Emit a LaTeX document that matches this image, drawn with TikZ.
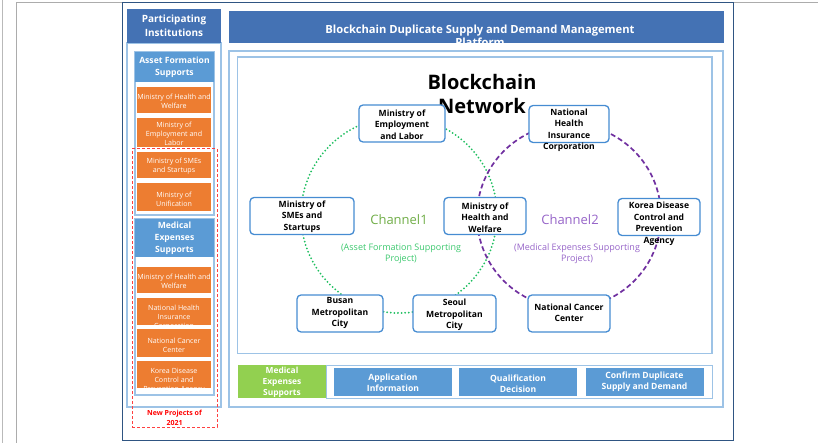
\documentclass[tikz,border=0pt]{standalone}
\usepackage{fontspec}
\setmainfont{Open Sans}
\definecolor{hdrblue}{RGB}{68,114,180}
\definecolor{midblue}{RGB}{91,155,213}
\definecolor{lineblue}{RGB}{157,195,230}
\definecolor{nodeblue}{RGB}{70,140,210}
\definecolor{orng}{RGB}{237,125,49}
\definecolor{grn}{RGB}{146,208,80}
\definecolor{ringgreen}{RGB}{30,190,95}
\definecolor{chonetext}{RGB}{112,173,71}
\definecolor{chonesub}{RGB}{60,200,110}
\definecolor{ringpurple}{RGB}{112,48,160}
\definecolor{chtwotext}{RGB}{150,100,200}
\definecolor{frameblue}{RGB}{47,85,130}
\begin{document}
\begin{tikzpicture}[x=1pt,y=-1pt,
  frame/.style={draw=lineblue, line width=1.2pt, inner sep=0pt},
  hdr/.style={fill=hdrblue, inner sep=0pt, text=white, align=center, font=\fontsize{10}{13.5}\selectfont\bfseries},
  subhdr/.style={fill=midblue, inner sep=0pt, text=white, align=center, font=\fontsize{8.6}{12}\selectfont\bfseries},
  obox/.style={fill=orng, inner sep=0pt, minimum width=74pt},
  otext/.style={inner sep=0pt, text=white, align=center, font=\fontsize{7.1}{8.8}\selectfont},
  netbox/.style={draw=nodeblue, line width=1.3pt, rounded corners=4pt, fill=white, minimum height=37pt, inner sep=0pt},
  nettext/.style={inner sep=0pt, align=center, font=\fontsize{8.6}{11.5}\selectfont\bfseries},
  bbox/.style={fill=midblue, inner sep=0pt, minimum width=118pt, minimum height=28pt},
  btext/.style={inner sep=0pt, text=white, align=center, font=\fontsize{8.6}{10.8}\selectfont\bfseries},
  ringone/.style={circle, draw=ringgreen, line width=2pt, dash pattern=on 0pt off 3.6pt, line cap=round, inner sep=0pt},
  ringtwo/.style={circle, draw=ringpurple, line width=1.7pt, dash pattern=on 5pt off 3pt, inner sep=0pt}
]
\useasboundingbox (0,0) rectangle (818,443);
% page frames
\draw[gray!55, line width=0.8pt] (2,0) -- (2,443);
\draw[gray!65, line width=0.8pt] (16,443) -- (16,2) -- (818,2);
\draw[frameblue, line width=1.2pt] (122.5,2.5) rectangle (733.5,440.5);

% ---------- left column ----------
\node[frame, minimum width=94pt, minimum height=364pt] (col) at (174,225) {};
\node[hdr, minimum width=94pt, minimum height=34pt] (colhdr) at (174,26) {Participating\\Institutions};
\node[frame, minimum width=79pt, minimum height=163pt] (assetgrp) at (174.5,133.5) {};
\node[subhdr, minimum width=79pt, minimum height=30pt] (assethdr) at (174.5,67) {Asset Formation\\Supports};
\node[frame, minimum width=79pt, minimum height=176pt] (medgrp) at (174.5,307) {};
\node[subhdr, minimum width=79pt, minimum height=38pt] (medhdr) at (174.5,238) {Medical\\Expenses\\Supports};

% orange boxes (asset)
\begin{scope}
\clip (137,87) rectangle (211,113);
\node[obox, minimum height=26pt] (a1) at (174,100) {};
\node[otext] (a1t) at (174,101.5) {Ministry of Health and\\Welfare};
\end{scope}
\begin{scope}
\clip (137,118) rectangle (211,147);
\node[obox, minimum height=29pt] (a2) at (174,132.5) {};
\node[otext] (a2t) at (174,134) {Ministry of\\Employment and\\Labor};
\end{scope}
\begin{scope}
\clip (137,152) rectangle (211,178);
\node[obox, minimum height=26pt] (a3) at (174,165) {};
\node[otext] (a3t) at (174,166.5) {Ministry of SMEs\\and Startups};
\end{scope}
\begin{scope}
\clip (137,183) rectangle (211,211);
\node[obox, minimum height=28pt] (a4) at (174,197) {};
\node[otext] (a4t) at (174,199.5) {Ministry of\\Unification};
\end{scope}
% orange boxes (medical)
\begin{scope}
\clip (137,267) rectangle (211,293);
\node[obox, minimum height=26pt] (m1) at (174,280) {};
\node[otext] (m1t) at (174,281.5) {Ministry of Health and\\Welfare};
\end{scope}
\begin{scope}
\clip (137,298) rectangle (211,325);
\node[obox, minimum height=27pt] (m2) at (174,311.5) {};
\node[otext] (m2t) at (174,317.5) {National Health\\Insurance\\Corporation};
\end{scope}
\begin{scope}
\clip (137,329) rectangle (211,357);
\node[obox, minimum height=28pt] (m3) at (174,343) {};
\node[otext] (m3t) at (174,345) {National Cancer\\Center};
\end{scope}
\begin{scope}
\clip (137,361) rectangle (211,388);
\node[obox, minimum height=27pt] (m4) at (174,374.5) {};
\node[otext] (m4t) at (174,381) {Korea Disease\\Control and\\Prevention Agency};
\end{scope}

% red dashed new projects
\node[draw=red!75, line width=1pt, dash pattern=on 3pt off 2pt, inner sep=0pt, minimum width=85pt, minimum height=278pt] (newproj) at (174.5,288) {};
\node[inner sep=0pt, text=red, align=center, font=\fontsize{7}{10}\selectfont\bfseries] (newprojt) at (174.5,417.5) {New Projects of\\2021};

% ---------- right part ----------
\begin{scope}
\clip (229,11) rectangle (724,43);
\node[fill=hdrblue, inner sep=0pt, minimum width=495pt, minimum height=32pt] (title) at (476.5,27) {};
\node[inner sep=0pt, text=white, align=center, font=\fontsize{11.2}{13.5}\selectfont\bfseries] (titlet) at (480,36) {Blockchain Duplicate Supply and Demand Management\\Platform};
\end{scope}
\node[frame, minimum width=494pt, minimum height=356pt] (mainbox) at (476,229) {};
\node[frame, minimum width=474.5pt, minimum height=296.5pt] (netarea) at (474.75,205.25) {};

\node[inner sep=0pt, align=center, font=\fontsize{20}{24}\selectfont\bfseries] (bcn) at (482,94) {Blockchain\\Network};

% rings
\node[ringone, minimum size=196pt] (ring1) at (399,215) {};
\node[ringtwo, minimum size=184pt] (ring2) at (569,216) {};

% network nodes
\node[netbox, minimum width=86pt] (emp) at (402,123.5) {};
\node[nettext] (empt) at (402,124.5) {Ministry of\\Employment\\and Labor};
\node[netbox, minimum width=104pt] (sme) at (302,216) {};
\node[nettext] (smet) at (302,216.5) {Ministry of\\SMEs and\\Startups};
\node[netbox, minimum width=82pt] (hw) at (485,216) {};
\node[nettext] (hwt) at (485,217.5) {Ministry of\\Health and\\Welfare};
\node[netbox, minimum width=80pt] (nhic) at (569,124) {};
\node[nettext] (nhict) at (569,130.5) {National\\Health\\Insurance\\Corporation};
\node[netbox, minimum width=82pt] (kdca) at (659,217) {};
\node[nettext] (kdcat) at (659,224) {Korea Disease\\Control and\\Prevention\\Agency};
\node[netbox, minimum width=86pt] (busan) at (340,313.5) {};
\node[nettext] (busant) at (340,313) {Busan\\Metropolitan\\City};
\node[netbox, minimum width=83pt] (seoul) at (454.5,313.5) {};
\node[nettext] (seoult) at (454.5,315) {Seoul\\Metropolitan\\City};
\node[netbox, minimum width=82pt] (ncc) at (569,313.5) {};
\node[nettext] (ncct) at (569,313) {National Cancer\\Center};

% channel labels
\node[inner sep=0pt, text=chonetext, font=\fontsize{13}{15}\selectfont] (ch1) at (399,220) {Channel1};
\node[inner sep=0pt, text=chonesub, align=center, font=\fontsize{9}{11}\selectfont] (ch1s) at (401,253.5) {(Asset Formation Supporting\\Project)};
\node[inner sep=0pt, text=chtwotext, font=\fontsize{13}{15}\selectfont] (ch2) at (570,220) {Channel2};
\node[inner sep=0pt, text=chtwotext, align=center, font=\fontsize{9}{11}\selectfont] (ch2s) at (577,253.5) {(Medical Expenses Supporting\\Project)};

% bottom row
\node[fill=grn, inner sep=0pt, minimum width=88pt, minimum height=33pt] (medsup) at (282,381.5) {};
\node[btext, font=\fontsize{8.4}{11}\selectfont\bfseries] (medsupt) at (282,382) {Medical\\Expenses\\Supports};
\node[frame, line width=1pt, minimum width=386pt, minimum height=33pt] (steps) at (519,381.5) {};
\node[bbox] (appinfo) at (393,382) {};
\node[btext] (appinfot) at (393,383) {Application\\Information};
\begin{scope}
\clip (459,368) rectangle (577,396);
\node[bbox] (qual) at (518,382) {};
\node[btext] (qualt) at (518,389.5) {Qualification\\Decision\\Information};
\end{scope}
\node[bbox] (confirm) at (644.5,382) {};
\node[btext] (confirmt) at (644.5,382) {Confirm Duplicate\\Supply and Demand};
\end{tikzpicture}
\end{document}
